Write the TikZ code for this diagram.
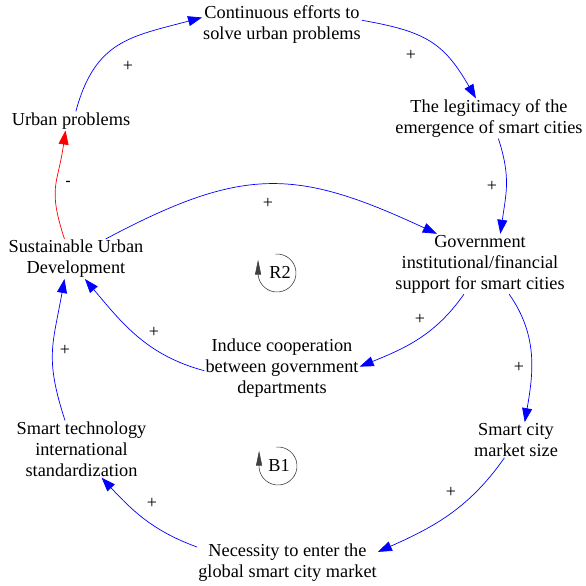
\documentclass[tikz,border=0pt]{standalone}
\usepackage{fontspec}
\setmainfont{Liberation Serif}
\usetikzlibrary{arrows.meta}

\begin{document}
\begin{tikzpicture}[x=1pt,y=1pt,
  var/.style={align=center, inner sep=1pt, font=\fontsize{18.3}{21}\selectfont},
  link/.style={blue, line width=0.7pt, -{Triangle[length=14pt,width=10pt]}},
  neglink/.style={link, red},
  pol/.style={inner sep=0pt, font=\fontsize{18}{18}\selectfont},
  loopmark/.style={black!75, line width=0.6pt, -{Triangle[length=15pt,width=6pt]}}]
\useasboundingbox (0,0) rectangle (586,586);
\node[var] (cont) at (282,561.5) {Continuous efforts to\\solve urban problems};
\node[var] (urb) at (71,465) {Urban problems};
\node[var] (legit) at (489,467.5) {The legitimacy of the\\emergence of smart cities};
\node[var] (sud) at (76,327) {Sustainable Urban\\Development};
\node[var] (gov) at (480,322) {Government\\institutional/financial\\support for smart cities};
\node[var] (ind) at (282,218) {Induce cooperation\\between government\\departments};
\node[var] (tech) at (81.5,137) {Smart technology\\international\\standardization};
\node[var] (mkt) at (516,146) {Smart city\\market size};
\node[var] (nec) at (287.5,23) {Necessity to enter the\\global smart city market};
\draw[link] (urb.63) to[out=75,in=195,looseness=1.2] (cont.175);
\draw[link] (cont.3) to[out=-10,in=120,looseness=1.2] (legit.123);
\draw[link] (legit.-65) to[out=-72,in=82,looseness=1.1] (gov.56);
\draw[link] (sud.34) to[out=28,in=155,looseness=1.2] (gov.145);
\draw[link] (gov.242) to[out=235,in=22] (ind.1);
\draw[link] (ind.182) to[out=165,in=-50] (sud.-66);
\draw[link] (gov.-46) to[out=-55,in=80] (mkt.64);
\draw[link] (mkt.237) to[out=235,in=24] (nec.7);
\draw[link] (nec.170) to[out=160,in=-47] (tech.-55);
\draw[link] (tech.120) to[out=108,in=-100,looseness=1.2] (sud.240);
\draw[neglink] (sud.120) to[out=108,in=-98,looseness=1.3] (urb.240);
\node[pol] (p1) at (128,520) {+};
\node[pol] (p2) at (411,531) {+};
\node[pol] (p3) at (492,400) {+};
\node[pol] (p4) at (268,383) {+};
\node[pol] (p5) at (420,267) {+};
\node[pol] (p6) at (154,254) {+};
\node[pol] (p7) at (519,219) {+};
\node[pol] (p8) at (451,94) {+};
\node[pol] (p9) at (152,83) {+};
\node[pol] (p10) at (65,236) {+};
\node[pol, font=\fontsize{15}{15}\selectfont] (m1) at (68,403) {\textbf{-}};
\node[var] (r2) at (280,314) {R2};
\node[var] (b1) at (279,121) {B1};
\coordinate (r2c) at (277,313);
\coordinate (b1c) at (278,120);
\draw[loopmark] ([shift={(95:19)}]r2c) arc[start angle=95,end angle=-175,radius=19] -- ++(0,15);
\draw[loopmark] ([shift={(95:19)}]b1c) arc[start angle=95,end angle=-175,radius=19] -- ++(0,17);
\end{tikzpicture}
\end{document}
